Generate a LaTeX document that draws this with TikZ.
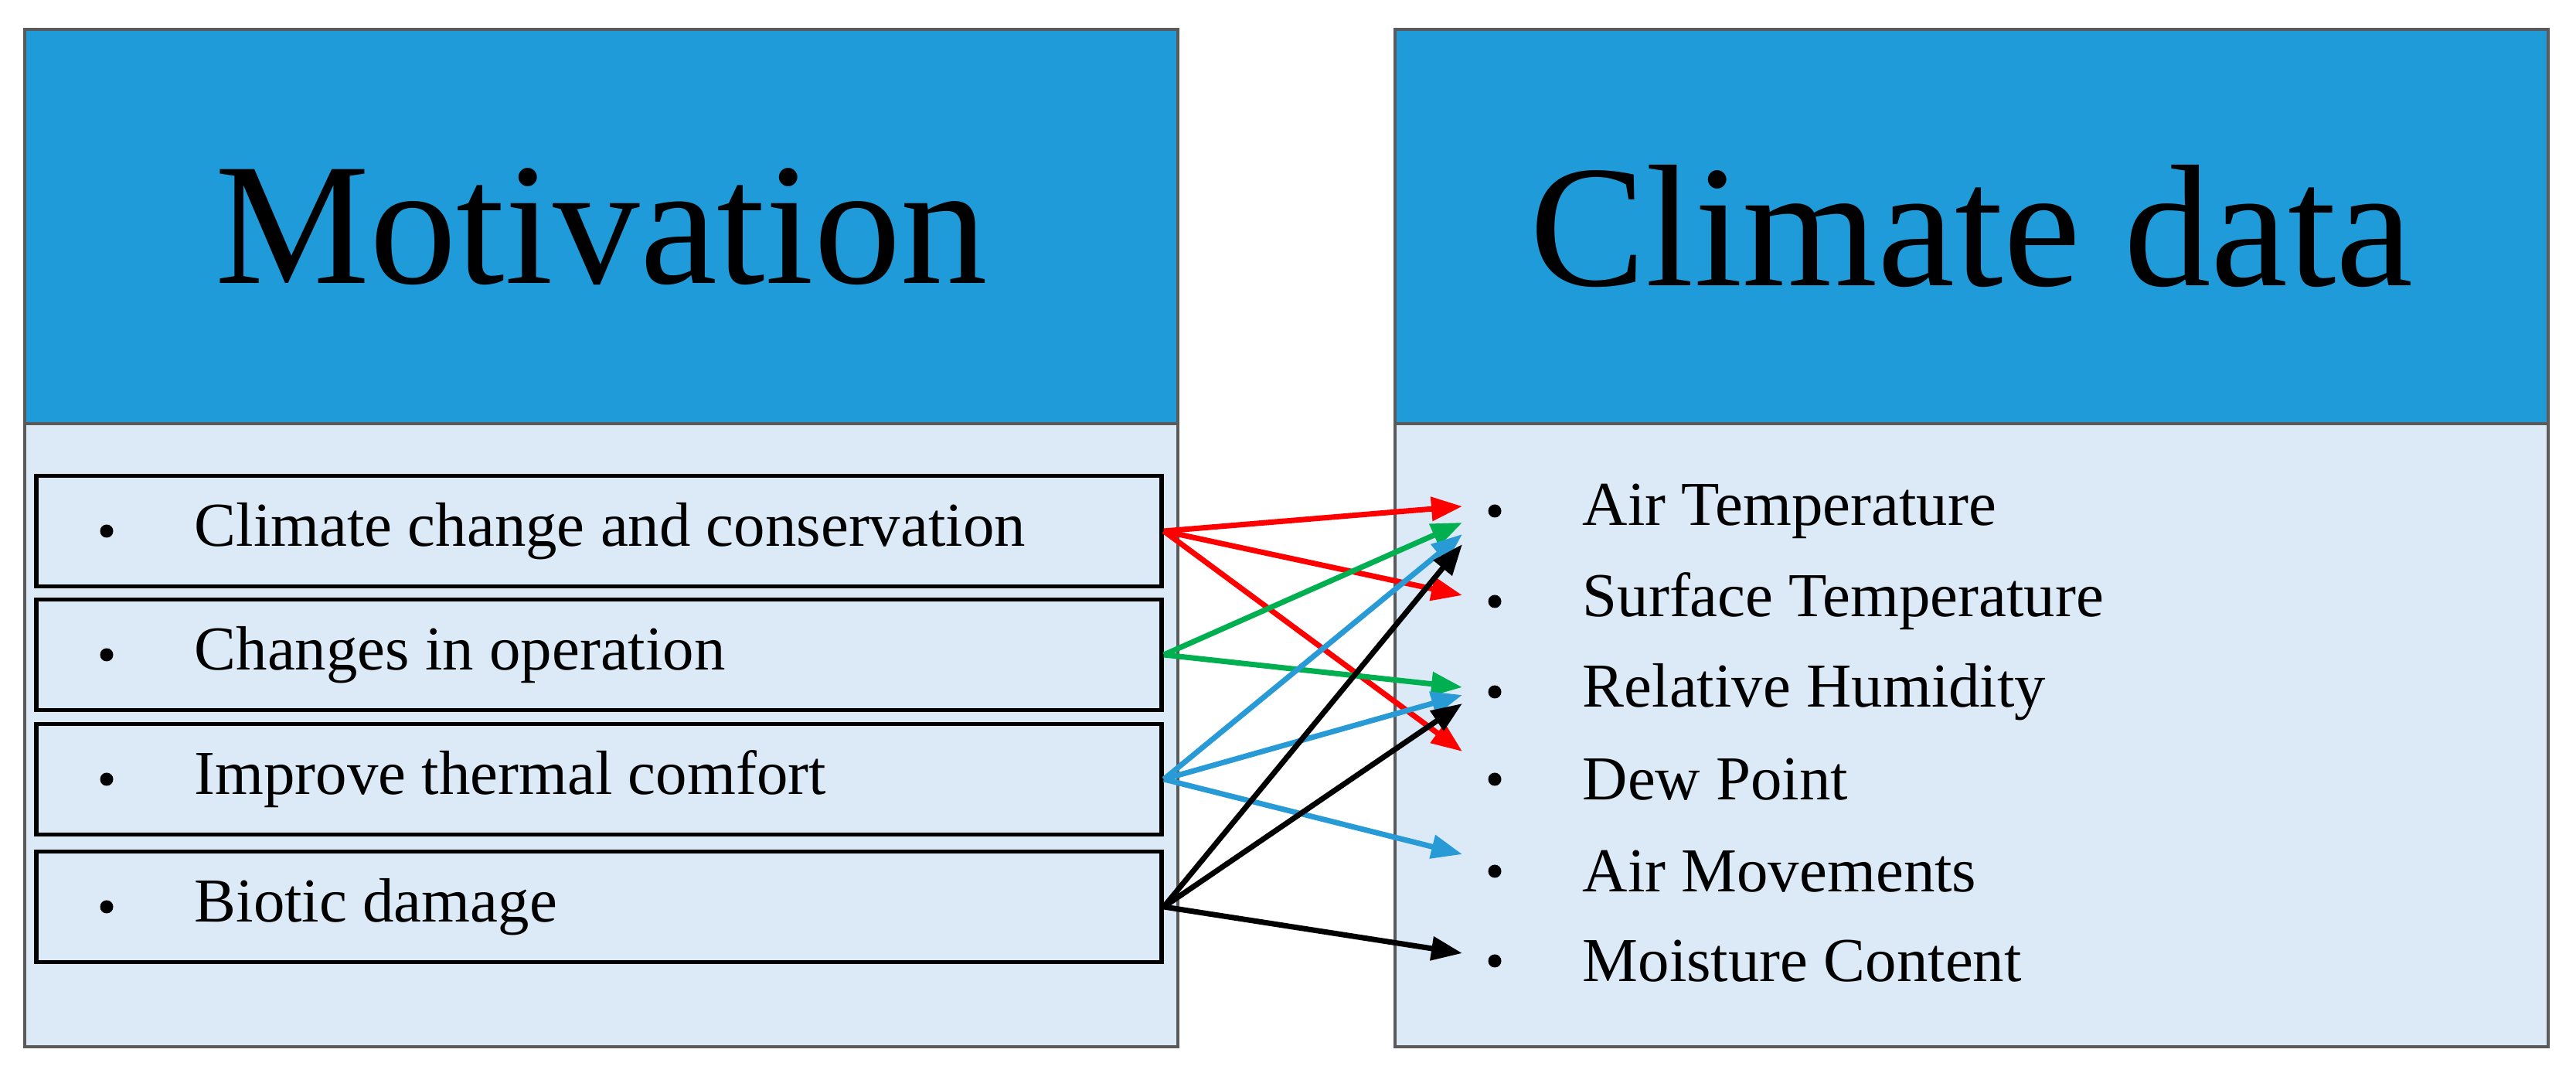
\documentclass[tikz,border=0pt]{standalone}
\usepackage{fontspec}
\setmainfont{Liberation Serif}
\usetikzlibrary{arrows.meta}

\begin{document}
\begin{tikzpicture}
    \definecolor{clim_head}{RGB}{30,155,216}
    \definecolor{clim_body}{RGB}{220,234,247}
    \definecolor{clim_frame}{RGB}{90,90,90}
    \definecolor{clim_red}{RGB}{255,0,0}
    \definecolor{clim_green}{RGB}{0,176,80}
    \definecolor{clim_blue}{RGB}{40,155,215}
    \tikzset{
      panel/.style={shape=rectangle,draw=clim_frame,line width=1.2pt,fill=clim_body,minimum width=14.92cm,minimum height=13.16cm},
      header/.style={shape=rectangle,draw=clim_frame,line width=1.2pt,fill=clim_head,minimum width=14.92cm,minimum height=5.1cm,font=\fontsize{64}{68}\selectfont},
      itembox/.style={shape=rectangle,draw,line width=1.6pt,fill=clim_body,minimum width=14.56cm,minimum height=1.43cm},
      itemtext/.style={anchor=west,inner sep=0pt,font=\fontsize{23}{26}\selectfont},
      dot/.style={circle,fill=black,inner sep=0pt,minimum size=0.17cm},
      link/.style={line width=2pt,-{Triangle[length=0.4cm,width=0.3cm]}}
    }
    \useasboundingbox (0,0) rectangle (33.33,13.97);
    % panels
    \node[panel]  (mpanel) at (7.78,7.01) {};
    \node[header] (mhead)  at (7.78,11.04) {Motivation};
    \node[panel]  (cpanel) at (25.51,7.01) {};
    \node[header] (chead)  at (25.51,11.04) {Climate data};
    % motivation items
    \foreach \name/\y/\txt in {m1/7.10/Climate change and conservation,m2/5.50/Changes in operation,m3/3.89/Improve thermal comfort,m4/2.24/Biotic damage} {
      \node[itembox] (\name) at (7.75,\y) {};
      \node[dot] at (1.38,\y) {};
      \node[itemtext] at (2.51,\y) {\txt};
    }
    % climate items
    \foreach \name/\y/\txt in {c1/7.36/Air Temperature,c2/6.19/Surface Temperature,c3/5.02/Relative Humidity,c4/3.89/Dew Point,c5/2.70/Air Movements,c6/1.54/Moisture Content} {
      \node[dot] at (19.34,\y) {};
      \node[itemtext] (\name) at (20.47,\y) {\txt};
    }
    % arrow ends
    \coordinate (r1) at (18.92,7.42);
    \coordinate (g1) at (18.92,7.21);
    \coordinate (b1) at (18.92,7.06);
    \coordinate (k1) at (18.92,6.93);
    \coordinate (r2) at (18.92,6.27);
    \coordinate (g2) at (18.92,5.08);
    \coordinate (b2) at (18.92,4.98);
    \coordinate (k2) at (18.92,4.87);
    \coordinate (r3) at (18.92,4.25);
    \coordinate (b3) at (18.92,2.92);
    \coordinate (k3) at (18.92,1.64);
    \foreach \t in {r1,r2,r3} \draw[link,clim_red] (m1.east) -- (\t);
    \foreach \t in {g1,g2} \draw[link,clim_green] (m2.east) -- (\t);
    \foreach \t in {b1,b2,b3} \draw[link,clim_blue] (m3.east) -- (\t);
    \foreach \t in {k1,k2,k3} \draw[link,black] (m4.east) -- (\t);
\end{tikzpicture}
\end{document}
